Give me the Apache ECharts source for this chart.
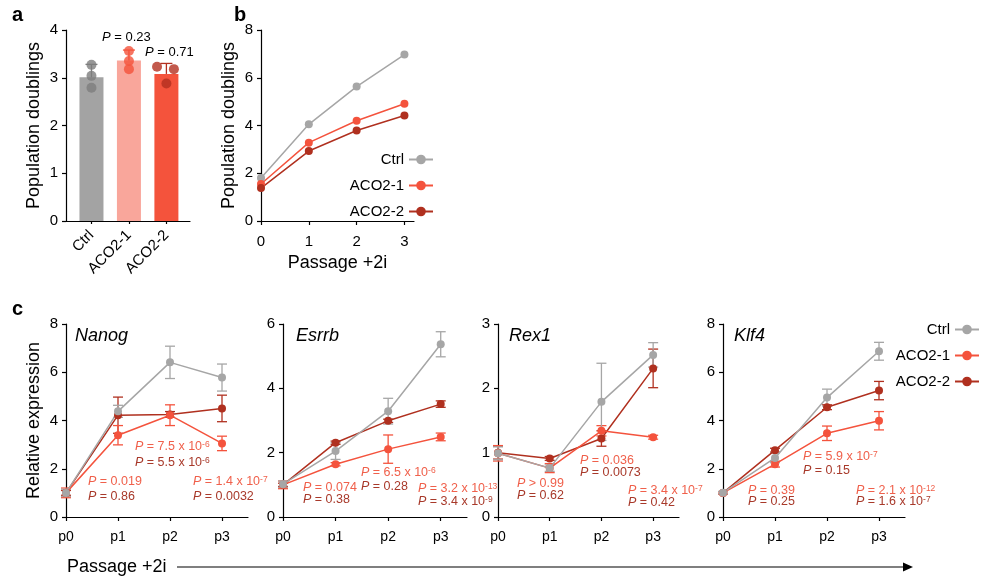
<!DOCTYPE html>
<html>
<head>
<meta charset="utf-8">
<title>ACO2 panels</title>
<script src="https://cdn.jsdelivr.net/npm/echarts@6/dist/echarts.min.js"></script>
<style>html,body{margin:0;padding:0;background:#fff;} #main{width:983px;height:580px;}</style>
</head>
<body>
<div id="main"></div>
<script>
// ---- data ----
var aGroups = ['Ctrl', 'ACO2-1', 'ACO2-2'];
var aMeans = [3.01, 3.36, 3.08];
var aSd = [0.27, 0.22, 0.22];
var aReps = [[3.27, 3.04, 2.79], [3.56, 3.35, 3.18], [3.23, 3.18, 2.88]];
var aJitter = [[0, 0, 0], [0, 0, 0], [-0.25, 0.2, 0]];
var aPvals = ['{i|P} = 0.23', '{i|P} = 0.71'];

var bPassages = [0, 1, 2, 3];
var bCtrl = [1.8, 4.05, 5.63, 6.97];
var bAco1 = [1.55, 3.28, 4.2, 4.91];
var bAco2 = [1.38, 2.93, 3.79, 4.42];

var genes = ['Nanog', 'Esrrb', 'Rex1', 'Klf4'];
var geneMax = [8, 6, 3, 8];
var geneStep = [2, 2, 1, 2];
var passLabels = ['p0', 'p1', 'p2', 'p3'];
var ctrlMean = [[1.0, 4.38, 6.41, 5.78], [1.02, 2.05, 3.29, 5.37], [0.99, 0.76, 1.79, 2.52], [1.01, 2.45, 4.95, 6.87]];
var ctrlSd   = [[0.15, 0.25, 0.67, 0.56], [0.1, 0.26, 0.4, 0.39], [0.1, 0.05, 0.6, 0.19], [0.05, 0.2, 0.35, 0.37]];
var aco1Mean = [[1.0, 3.39, 4.22, 3.05], [1.0, 1.64, 2.11, 2.49], [0.99, 0.76, 1.34, 1.24], [1.0, 2.19, 3.47, 3.99]];
var aco1Sd   = [[0.2, 0.4, 0.43, 0.3], [0.12, 0.05, 0.44, 0.12], [0.12, 0.07, 0.08, 0.03], [0.05, 0.12, 0.3, 0.38]];
var aco2Mean = [[1.0, 4.22, 4.25, 4.5], [1.0, 2.31, 2.99, 3.51], [1.0, 0.91, 1.22, 2.31], [1.0, 2.77, 4.55, 5.24]];
var aco2Sd   = [[0.1, 0.75, 0.12, 0.55], [0.05, 0.05, 0.05, 0.1], [0.1, 0.03, 0.12, 0.3], [0.05, 0.08, 0.1, 0.38]];

// P values per gene, for p1, p2, p3: [ACO2-1 vs Ctrl, ACO2-2 vs Ctrl]
var pTexts = [
  [['{i|P} = 0.019', '{i|P} = 0.86'], ['{i|P} = 7.5 x 10{s|-6}', '{i|P} = 5.5 x 10{s|-6}'], ['{i|P} = 1.4 x 10{s|-7}', '{i|P} = 0.0032']],
  [['{i|P} = 0.074', '{i|P} = 0.38'], ['{i|P} = 6.5 x 10{s|-6}', '{i|P} = 0.28'], ['{i|P} = 3.2 x 10{s|-13}', '{i|P} = 3.4 x 10{s|-9}']],
  [['{i|P} > 0.99', '{i|P} = 0.62'], ['{i|P} = 0.036', '{i|P} = 0.0073'], ['{i|P} = 3.4 x 10{s|-7}', '{i|P} = 0.42']],
  [['{i|P} = 0.39', '{i|P} = 0.25'], ['{i|P} = 5.9 x 10{s|-7}', '{i|P} = 0.15'], ['{i|P} = 2.1 x 10{s|-12}', '{i|P} = 1.6 x 10{s|-7}']]
];

// ---- layout ----
var FONT = '"Liberation Sans", Arial, Helvetica, sans-serif';
var C_CTRL = '#a6a6a6', C_ACO1 = '#f4533d', C_ACO2 = '#b0301f';
var T_ACO1 = '#f0604b', T_ACO2 = '#a8392a';
var aBarColors = ['#a3a3a3', '#f9a69b', '#f4533c'];
var aDotColors = ['#7d7d7d', '#f4523b', '#b3301f'];

var cGrids = [
  {left: 66, width: 182}, {left: 283, width: 184}, {left: 498, width: 181}, {left: 723, width: 182}
];
var pPos = [
  [[88, 482, 15], [135, 447, 16], [193, 482, 15]],
  [[303, 488, 12], [361, 473, 14], [418, 489, 13]],
  [[517, 484, 12], [580, 461, 12], [628, 491, 12]],
  [[748, 491, 11], [803, 457, 14], [856, 491, 11]]
];

var myChart = echarts.init(document.getElementById('main'), null, {renderer: 'canvas'});

function errRender(colors, capW, upOnly) {
  return function (params, api) {
    var x = api.value(0), m = api.value(1), sd = api.value(2);
    var top = api.coord([x, m + sd]);
    var bot = api.coord([x, upOnly ? m : m - sd]);
    var c = colors[params.dataIndex % colors.length];
    var st = {stroke: c, lineWidth: 1.3};
    var ch = [
      {type: 'line', shape: {x1: top[0], y1: top[1], x2: bot[0], y2: bot[1]}, style: st},
      {type: 'line', shape: {x1: top[0] - capW / 2, y1: top[1], x2: top[0] + capW / 2, y2: top[1]}, style: st}
    ];
    if (!upOnly) {
      ch.push({type: 'line', shape: {x1: bot[0] - capW / 2, y1: bot[1], x2: bot[0] + capW / 2, y2: bot[1]}, style: st});
    }
    return {type: 'group', children: ch};
  };
}

function richText(str, color, x, y, size) {
  return {
    type: 'text', x: x, y: y, z: 50,
    style: {
      text: str, fill: color, font: size + 'px ' + FONT, verticalAlign: 'middle', align: 'left',
      rich: {
        i: {fontStyle: 'italic', fontSize: size, fontFamily: FONT, fill: color, lineHeight: 14},
        s: {fontSize: size - 4, fontFamily: FONT, fill: color, verticalAlign: 'top', lineHeight: 14}
      }
    }
  };
}

var axisLine = {show: true, onZero: false, lineStyle: {color: '#000', width: 1.2}};
var axisTick = {show: true, length: 4, lineStyle: {color: '#000', width: 1.2}};
var labelStyle = {color: '#000', fontSize: 15, fontFamily: FONT};
var nameStyle = {color: '#000', fontSize: 18, fontFamily: FONT};

var grids = [
  {left: 66, top: 30, width: 124, height: 191},
  {left: 261, top: 30, width: 153, height: 191}
];
var xAxes = [
  {gridIndex: 0, type: 'value', min: -0.68, max: 2.63, splitLine: {show: false},
   axisLine: axisLine, axisTick: {show: true, length: 3, customValues: [0, 1, 2], lineStyle: {color: '#000', width: 1.2}},
   axisLabel: {customValues: [0, 1, 2], rotate: 45, margin: 12, color: '#000', fontSize: 15, fontFamily: FONT,
     formatter: function (v) { return aGroups[Math.round(v)] || ''; }}},
  {gridIndex: 1, type: 'value', min: 0, max: 3.2, splitLine: {show: false},
   axisLine: axisLine, axisTick: {show: true, length: 4, customValues: bPassages, lineStyle: {color: '#000', width: 1.2}},
   axisLabel: {customValues: bPassages, margin: 13, color: '#000', fontSize: 15, fontFamily: FONT},
   name: 'Passage +2i', nameLocation: 'middle', nameGap: 33, nameTextStyle: nameStyle}
];
var yAxes = [
  {gridIndex: 0, type: 'value', min: 0, max: 4, interval: 1, splitLine: {show: false},
   axisLine: axisLine, axisTick: axisTick, axisLabel: labelStyle,
   name: 'Population doublings', nameLocation: 'middle', nameGap: 23, nameTextStyle: nameStyle},
  {gridIndex: 1, type: 'value', min: 0, max: 8, interval: 2, splitLine: {show: false},
   axisLine: axisLine, axisTick: axisTick, axisLabel: labelStyle,
   name: 'Population doublings', nameLocation: 'middle', nameGap: 23, nameTextStyle: nameStyle}
];

var series = [
  // panel b lines
  {name: 'Ctrl', type: 'line', xAxisIndex: 1, yAxisIndex: 1, data: bPassages.map(function (p, i) { return [p, bCtrl[i]]; }),
   symbol: 'circle', symbolSize: 8, color: C_CTRL, lineStyle: {width: 1.5}},
  {name: 'ACO2-1', type: 'line', xAxisIndex: 1, yAxisIndex: 1, data: bPassages.map(function (p, i) { return [p, bAco1[i]]; }),
   symbol: 'circle', symbolSize: 8, color: C_ACO1, lineStyle: {width: 1.5}},
  {name: 'ACO2-2', type: 'line', xAxisIndex: 1, yAxisIndex: 1, data: bPassages.map(function (p, i) { return [p, bAco2[i]]; }),
   symbol: 'circle', symbolSize: 8, color: C_ACO2, lineStyle: {width: 1.5}},
  // panel a
  {name: 'a-bars', type: 'bar', xAxisIndex: 0, yAxisIndex: 0, barWidth: 24,
   data: aMeans.map(function (m, i) { return {value: [i, m], itemStyle: {color: aBarColors[i]}}; })},
  {name: 'a-err', type: 'custom', xAxisIndex: 0, yAxisIndex: 0, z: 3,
   renderItem: errRender(aDotColors, 12, true),
   data: aMeans.map(function (m, i) { return [i, m, aSd[i]]; })},
  {name: 'a-dots', type: 'scatter', xAxisIndex: 0, yAxisIndex: 0, symbolSize: 10, z: 4,
   data: [].concat.apply([], aReps.map(function (r, i) {
     return r.map(function (v, j) { return {value: [i + aJitter[i][j], v], itemStyle: {color: aDotColors[i]}}; });
   }))}
];

var graphics = [
  {type: 'text', x: 12, y: 5, style: {text: 'a', font: 'bold 20px ' + FONT, fill: '#000'}},
  {type: 'text', x: 234, y: 5, style: {text: 'b', font: 'bold 20px ' + FONT, fill: '#000'}},
  {type: 'text', x: 12, y: 299, style: {text: 'c', font: 'bold 20px ' + FONT, fill: '#000'}},
  richText(aPvals[0], '#000', 102, 37, 13),
  richText(aPvals[1], '#000', 145, 52, 13),
  {type: 'text', x: 67, y: 567, style: {text: 'Passage +2i', font: '18px ' + FONT, fill: '#000', verticalAlign: 'middle'}},
  {type: 'line', shape: {x1: 177, y1: 567, x2: 906, y2: 567}, style: {stroke: '#000', lineWidth: 1.2}},
  {type: 'polygon', shape: {points: [[913, 567], [903, 562.5], [903, 571.5]]}, style: {fill: '#000'}}
];

genes.forEach(function (g, k) {
  var gi = k + 2;
  grids.push({left: cGrids[k].left, width: cGrids[k].width, top: 324, height: 193});
  xAxes.push({gridIndex: gi, type: 'value', min: 0, max: 3.5, splitLine: {show: false},
    axisLine: axisLine,
    axisTick: {show: true, length: 4, customValues: [0, 1, 2, 3], lineStyle: {color: '#000', width: 1.2}},
    axisLabel: {customValues: [0, 1, 2, 3], margin: 13, color: '#000', fontSize: 14, fontFamily: FONT,
      formatter: function (v) { return passLabels[Math.round(v)]; }}});
  var ya = {gridIndex: gi, type: 'value', min: 0, max: geneMax[k], interval: geneStep[k], splitLine: {show: false},
    axisLine: axisLine, axisTick: axisTick, axisLabel: labelStyle};
  if (k === 0) {
    ya.name = 'Relative expression';
    ya.nameLocation = 'middle';
    ya.nameGap = 23;
    ya.nameTextStyle = nameStyle;
  }
  yAxes.push(ya);

  var sets = [
    ['ACO2-2', aco2Mean[k], aco2Sd[k], C_ACO2],
    ['ACO2-1', aco1Mean[k], aco1Sd[k], C_ACO1],
    ['Ctrl', ctrlMean[k], ctrlSd[k], C_CTRL]
  ];
  sets.forEach(function (s) {
    series.push({name: s[0] + '-err', type: 'custom', xAxisIndex: gi, yAxisIndex: gi, z: 2,
      renderItem: errRender([s[3]], 10, false),
      data: s[1].map(function (m, i) { return [i, m, s[2][i]]; })});
    series.push({name: s[0], type: 'line', xAxisIndex: gi, yAxisIndex: gi, z: 2,
      data: s[1].map(function (m, i) { return [i, m]; }),
      symbol: 'circle', symbolSize: 8, color: s[3], lineStyle: {width: 1.5}});
  });

  graphics.push({type: 'text', x: [75, 296, 509, 734][k], y: 336,
    style: {text: g, font: 'italic 18px ' + FONT, fill: '#000', verticalAlign: 'middle'}});

  pTexts[k].forEach(function (pair, j) {
    var p = pPos[k][j];
    graphics.push(richText(pair[0], T_ACO1, p[0], p[1], 12.5));
    graphics.push(richText(pair[1], T_ACO2, p[0], p[1] + p[2], 12.5));
  });
});

var legendBase = {
  data: ['Ctrl', 'ACO2-1', 'ACO2-2'], orient: 'vertical', align: 'right', selectedMode: false,
  itemWidth: 24, itemHeight: 12, itemGap: 11, padding: 0,
  textStyle: {color: '#000', fontSize: 15, fontFamily: FONT}
};

var option = {
  animation: false,
  backgroundColor: '#fff',
  grid: grids,
  xAxis: xAxes,
  yAxis: yAxes,
  legend: [
    Object.assign({}, legendBase, {right: 549, top: 152}),
    Object.assign({}, legendBase, {right: 3, top: 322})
  ],
  series: series,
  graphic: graphics
};

myChart.setOption(option);
</script>
</body>
</html>
